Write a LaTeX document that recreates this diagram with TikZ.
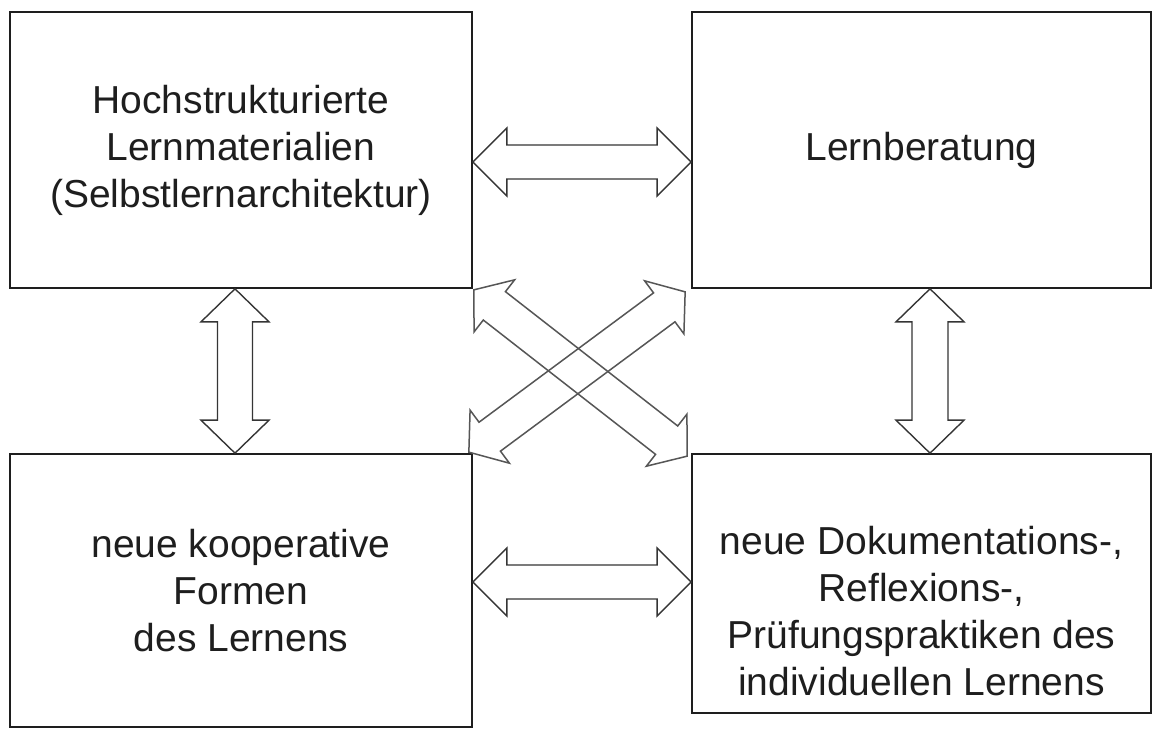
\documentclass[tikz,border=0pt]{standalone}
\usepackage{fontspec}
\setmainfont{Liberation Sans}
\usetikzlibrary{calc}
\definecolor{ink}{HTML}{1E1E1E}
\tikzset{
  box/.style={draw=ink, line width=1.7pt, inner sep=0pt, align=center,
    text=ink, font=\fontsize{39}{47}\selectfont},
  txt/.style={inner sep=0pt, align=center, text=ink, font=\fontsize{39}{47}\selectfont},
  barrow/.style={draw=ink!90, line width=1.4pt, line join=miter},
  darrow/.style={draw=ink!75, line width=1.5pt, line join=miter},
}
% #1 style, #2 from, #3 to, #4 head length, #5 head half width, #6 shaft half width
\newcommand{\dblblock}[6]{%
  \coordinate (ba-h1) at ($(#2)!#4!(#3)$);
  \coordinate (ba-h2) at ($(#3)!#4!(#2)$);
  \draw[#1] (#2) -- ($(ba-h1)!#5!-90:(#3)$) -- ($(ba-h1)!#6!-90:(#3)$)
    -- ($(ba-h2)!#6!90:(#2)$) -- ($(ba-h2)!#5!90:(#2)$) -- (#3)
    -- ($(ba-h2)!#5!-90:(#2)$) -- ($(ba-h2)!#6!-90:(#2)$)
    -- ($(ba-h1)!#6!90:(#3)$) -- ($(ba-h1)!#5!90:(#3)$) -- cycle;
}
\begin{document}
\begin{tikzpicture}[x=1pt,y=-1pt]
\useasboundingbox (0,0) rectangle (1153,729);
\fill[white] (0,0) rectangle (1153,729);

\node[box, minimum width=462pt, minimum height=276pt] (TL) at (241,150)
  {Hochstrukturierte\\Lernmaterialien\\(Selbstlernarchitektur)};
\node[box, minimum width=459pt, minimum height=276pt] (TR) at (921.5,150)
  {Lernberatung};
\node[box, minimum width=462pt, minimum height=273pt] (BL) at (241,590.5)
  {neue kooperative\\Formen\\des Lernens};
\node[box, minimum width=459pt, minimum height=259pt] (BR) at (921.5,583.5) {};
\node[txt] (BRt) at (921.5,611)
  {neue Dokumentations-,\\Reflexions-,\\Prüfungspraktiken des\\individuellen Lernens};

% straight connectors
\coordinate (t1) at (TL.east |- 0,162);
\coordinate (t2) at (TR.west |- 0,162);
\coordinate (b1) at (BL.east |- 0,582);
\coordinate (b2) at (BR.west |- 0,582);
\coordinate (l1) at (TL.south -| 235,0);
\coordinate (l2) at (BL.north -| 235,0);
\coordinate (r1) at (TR.south -| 930,0);
\coordinate (r2) at (BR.north -| 930,0);
\dblblock{barrow}{t1}{t2}{34pt}{34pt}{17pt}
\dblblock{barrow}{b1}{b2}{34pt}{34pt}{17pt}
\dblblock{barrow}{l1}{l2}{33pt}{34pt}{17.5pt}
\dblblock{barrow}{r1}{r2}{33pt}{34pt}{18pt}

% diagonal connectors
\coordinate (d1) at ($(TL.south east)+(1,1)$);
\coordinate (d2) at ($(BR.north west)+(-4,3)$);
\coordinate (e1) at ($(TR.south west)+(-6,3)$);
\coordinate (e2) at ($(BL.north east)+(-4,-1)$);
\dblblock{darrow}{d1}{d2}{26pt}{33pt}{18pt}
\dblblock{darrow}{e1}{e2}{26pt}{33pt}{18pt}
\end{tikzpicture}
\end{document}
